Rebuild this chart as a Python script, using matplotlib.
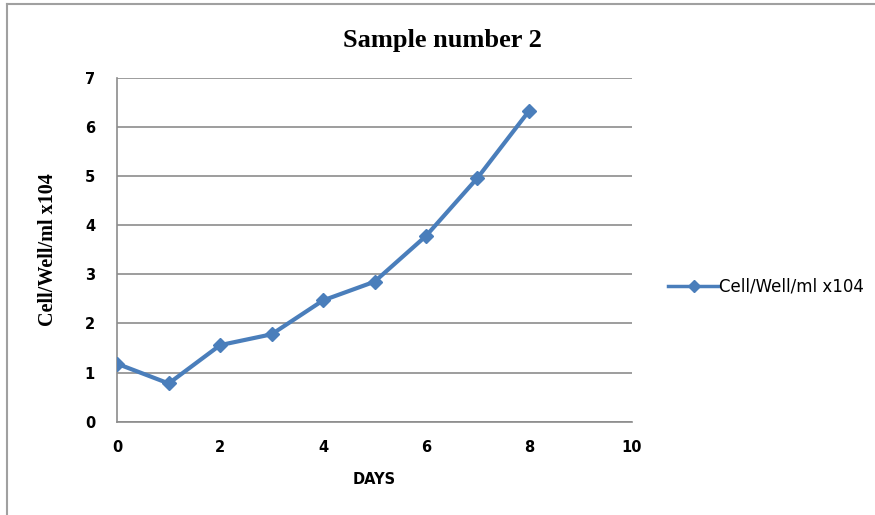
import matplotlib
matplotlib.use("Agg")
import matplotlib.pyplot as plt
from matplotlib.lines import Line2D

days = [0, 1, 2, 3, 4, 5, 6, 7, 8]
cells = [1.18, 0.78, 1.56, 1.78, 2.47, 2.85, 3.78, 4.96, 6.32]
x_ticks = [0, 2, 4, 6, 8, 10]
y_ticks = [0, 1, 2, 3, 4, 5, 6, 7]
title = "Sample number 2"
series_name = "Cell/Well/ml x104"
x_label = "DAYS"
y_label = "Cell/Well/ml x104"

sans = ['Liberation Sans Narrow', 'DejaVu Sans']
serif = ['Liberation Serif', 'DejaVu Serif']
line_color = '#4a7ebb'
grid_color = '#8c8c8c'

fig = plt.figure(figsize=(8.75, 5.15), dpi=100)
ax = fig.add_axes([0.134, 0.181, 0.588, 0.668])

ax.plot(days, cells, color=line_color, lw=3, marker='D', markersize=7,
        label=series_name, zorder=3)

ax.set_xlim(0, 10)
ax.set_ylim(0, 7)
ax.set_xticks(x_ticks)
ax.set_yticks(y_ticks)
ax.yaxis.grid(True, color=grid_color, lw=1.2)
ax.set_axisbelow(True)
for s in ['top', 'right']:
    ax.spines[s].set_visible(False)
for s in ['left', 'bottom']:
    ax.spines[s].set_color(grid_color)
    ax.spines[s].set_linewidth(1.2)
ax.tick_params(length=0)
for lab in ax.get_xticklabels() + ax.get_yticklabels():
    lab.set_family(sans)
    lab.set_fontweight('bold')
    lab.set_fontsize(10.5)
ax.tick_params(axis='x', pad=13)
ax.tick_params(axis='y', pad=16)

ax.set_xlabel(x_label, family=sans, fontweight='bold', fontsize=10.5, labelpad=12)
ax.set_ylabel(y_label, family=serif, fontweight='bold', fontsize=14.5, labelpad=19)

fig.text(0.506, 0.922, title, family=serif, fontweight='bold', fontsize=19,
         ha='center', va='center')

leg = fig.legend(handles=[Line2D([], [], color=line_color, lw=2.5, marker='D', markersize=6)],
                 labels=[series_name], loc='center left', bbox_to_anchor=(0.746, 0.443),
                 frameon=False, handlelength=3.1, handletextpad=0.0,
                 prop={'family': sans, 'size': 12})

fig.add_artist(Line2D([0.008, 1.0], [0.992, 0.992], color='#a0a0a0', lw=1.5,
                      transform=fig.transFigure))
fig.add_artist(Line2D([0.008, 0.008], [0.0, 0.992], color='#a0a0a0', lw=1.5,
                      transform=fig.transFigure))

fig.savefig("out.png", dpi=100)
